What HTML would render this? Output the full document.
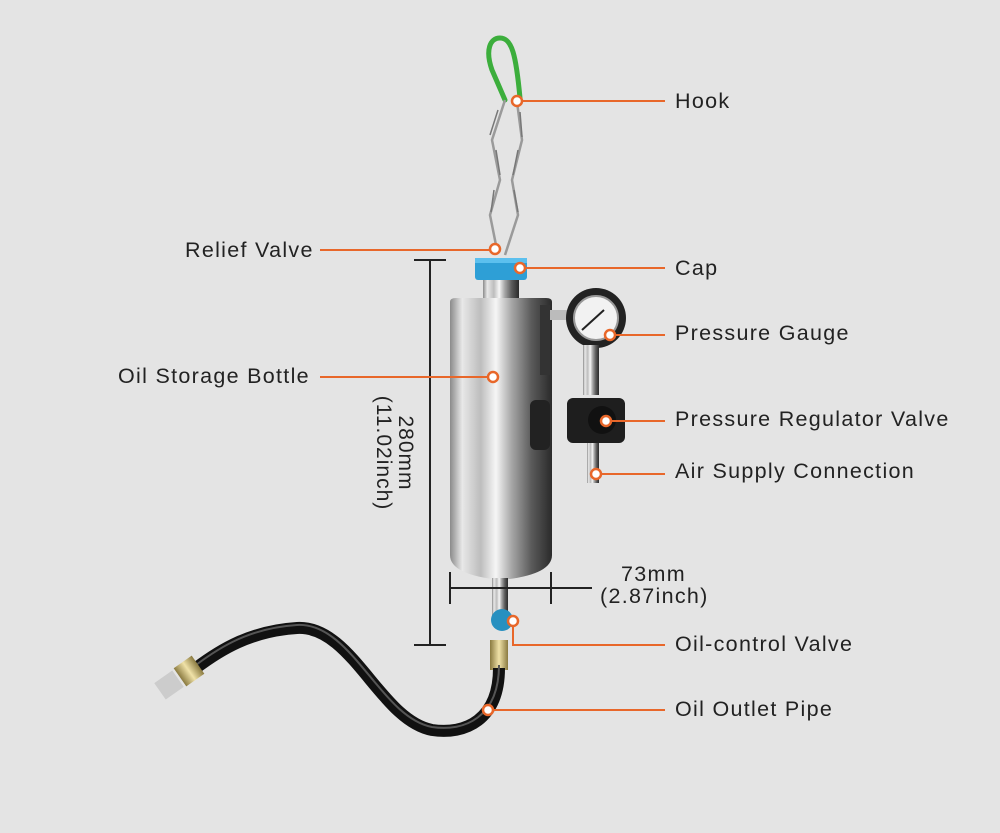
<!DOCTYPE html>
<html><head><style>
body{margin:0;width:1000px;height:833px;background:#e4e4e4;overflow:hidden;position:relative;font-family:"Liberation Sans",sans-serif}
.t{position:absolute;font-size:21.5px;color:#222;letter-spacing:1.3px;line-height:21px}
</style></head><body>
<svg width="1000" height="833" style="position:absolute;left:0;top:0">
<defs>
<linearGradient id="steel" x1="0" x2="1">
<stop offset="0" stop-color="#8a8a8a"/><stop offset="0.12" stop-color="#e8e8e8"/><stop offset="0.3" stop-color="#bdbdbd"/><stop offset="0.45" stop-color="#f6f6f6"/><stop offset="0.6" stop-color="#a8a8a8"/><stop offset="0.8" stop-color="#5a5a5a"/><stop offset="1" stop-color="#2a2a2a"/>
</linearGradient>
<linearGradient id="brass" x1="0" x2="1"><stop offset="0" stop-color="#8a7a40"/><stop offset="0.5" stop-color="#f0e2a8"/><stop offset="1" stop-color="#8a7a40"/></linearGradient>
</defs>
<path d="M505,100 L492,70 C485,50 490,38 500,38 C512,38 516,55 520,98" fill="none" stroke="#3cae3c" stroke-width="5" stroke-linecap="round"/>
<g fill="none" stroke="#9a9a9a" stroke-width="2.5">
<path d="M505,100 L492,140 L500,180 L490,215 L497,250"/>
<path d="M517,102 L522,140 L512,180 L518,215 L505,255"/>
</g>
<g fill="none" stroke="#777" stroke-width="1.5">
<path d="M498,110 l-8,25 M496,150 l4,25 M494,190 l-3,22 M520,112 l2,25 M518,150 l-5,25 M514,190 l4,22"/>
</g>
<rect x="483" y="278" width="36" height="25" fill="url(#steel)"/>
<rect x="475" y="258" width="52" height="22" rx="3" fill="#2e9fd6"/>
<rect x="475" y="258" width="52" height="5" fill="#5cc0ee"/>
<path d="M450,302 Q450,298 456,298 L546,298 Q552,298 552,302 L552,555 Q552,575 501,580 Q450,575 450,555 Z" fill="url(#steel)"/>
<rect x="530" y="400" width="20" height="50" rx="6" fill="#222"/>
<rect x="540" y="305" width="10" height="70" fill="#333"/>
<rect x="550" y="310" width="20" height="10" fill="#bbb"/>
<circle cx="596" cy="318" r="30" fill="#222"/>
<circle cx="596" cy="318" r="22" fill="#f2f2f2" stroke="#999" stroke-width="2"/>
<path d="M582,330 L604,310" stroke="#222" stroke-width="2"/>
<rect x="583" y="345" width="16" height="50" fill="url(#steel)"/>
<rect x="567" y="398" width="58" height="45" rx="6" fill="#1e1e1e"/>
<circle cx="602" cy="420" r="14" fill="#111"/>
<rect x="587" y="443" width="12" height="40" fill="url(#steel)"/>
<rect x="492" y="578" width="16" height="40" fill="url(#steel)"/>
<circle cx="502" cy="620" r="11" fill="#2790c0"/>
<rect x="490" y="640" width="18" height="30" fill="url(#brass)"/>
<path d="M499,668 C499,720 465,735 432,730 C380,720 352,625 297,628 C250,631 220,650 196,668" fill="none" stroke="#111" stroke-width="12"/>
<path d="M499,668 C499,720 465,735 432,730 C380,720 352,625 297,628 C250,631 220,650 196,668" fill="none" stroke="#555" stroke-width="2" transform="translate(0,-3)"/>
<rect x="178" y="660" width="22" height="22" fill="url(#brass)" transform="rotate(-35 189 671)"/>
<rect x="158" y="675" width="22" height="20" fill="#ccc" transform="rotate(-35 169 685)"/>
<g stroke="#222" stroke-width="2">
<line x1="430" y1="260" x2="430" y2="645"/>
<line x1="414" y1="260" x2="446" y2="260"/>
<line x1="414" y1="645" x2="446" y2="645"/>
<line x1="450" y1="588" x2="592" y2="588"/>
<line x1="450" y1="572" x2="450" y2="604"/>
<line x1="551" y1="572" x2="551" y2="604"/>
</g>
<g stroke="#e8672a" stroke-width="2" fill="none">
<path d="M517,101 H665"/>
<path d="M320,250 H495"/>
<path d="M520,268 H665"/>
<path d="M610,335 H665"/>
<path d="M320,377 H493"/>
<path d="M606,421 H665"/>
<path d="M596,474 H665"/>
<path d="M513,621 V645 H665"/>
<path d="M488,710 H665"/>
</g>
<g fill="#fff" stroke="#e8672a" stroke-width="2.5">
<circle cx="517" cy="101" r="5"/><circle cx="495" cy="249" r="5"/><circle cx="520" cy="268" r="5"/>
<circle cx="610" cy="335" r="5"/><circle cx="493" cy="377" r="5"/><circle cx="606" cy="421" r="5"/>
<circle cx="596" cy="474" r="5"/><circle cx="513" cy="621" r="5"/><circle cx="488" cy="710" r="5"/>
</g>
<text x="395" y="453" transform="rotate(90 395 453)" text-anchor="middle" font-family="Liberation Sans" font-size="21" letter-spacing="1" fill="#222"><tspan x="395" dy="-4">280mm</tspan><tspan x="395" dy="22">(11.02inch)</tspan></text>
</svg>
<div class="t" style="left:675px;top:91px">Hook</div>
<div class="t" style="left:185px;top:240px">Relief Valve</div>
<div class="t" style="left:675px;top:258px">Cap</div>
<div class="t" style="left:675px;top:323px">Pressure Gauge</div>
<div class="t" style="left:118px;top:366px">Oil Storage Bottle</div>
<div class="t" style="left:675px;top:409px">Pressure Regulator Valve</div>
<div class="t" style="left:675px;top:461px">Air Supply Connection</div>
<div class="t" style="left:621px;top:564px">73mm</div>
<div class="t" style="left:600px;top:586px">(2.87inch)</div>
<div class="t" style="left:675px;top:634px">Oil-control Valve</div>
<div class="t" style="left:675px;top:699px">Oil Outlet Pipe</div>
</body></html>
